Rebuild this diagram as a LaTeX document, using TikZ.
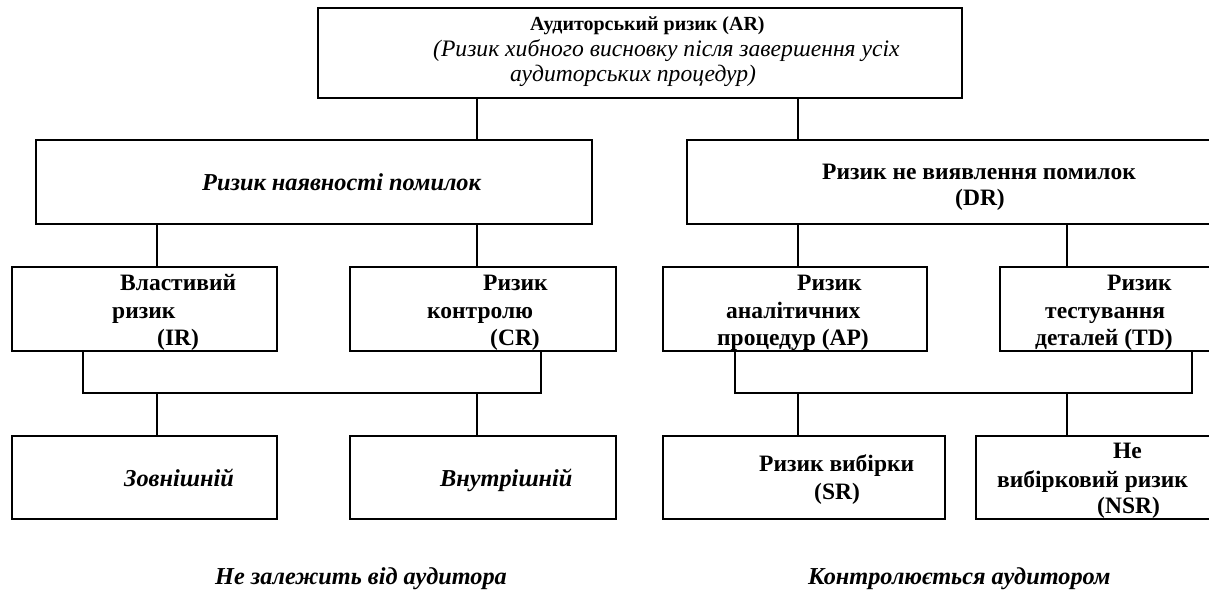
\documentclass[tikz,border=0pt]{standalone}
\usepackage{fontspec}
\setmainfont{Liberation Serif}
\begin{document}
\begin{tikzpicture}[x=1pt,y=-1pt,
  box/.style={draw,line width=2pt,inner sep=0pt,anchor=north west},
  conn/.style={line width=2pt},
  tb/.style={inner sep=0pt,anchor=base west,font=\fontsize{23.5}{27}\selectfont\bfseries},
  tbi/.style={inner sep=0pt,anchor=base west,font=\fontsize{24.3}{27}\selectfont\bfseries\itshape},
  ttb/.style={inner sep=0pt,anchor=base west,font=\fontsize{20}{25}\selectfont\bfseries},
  tti/.style={inner sep=0pt,anchor=base west,font=\fontsize{23.6}{25}\selectfont\itshape}]
\useasboundingbox (0,0) rectangle (1209,592);
\clip (0,0) rectangle (1209,592);
% boxes
\node[box,minimum width=644pt,minimum height=90pt] (ar) at (317,7) {};
\node[box,minimum width=556pt,minimum height=84pt] (er) at (35,139) {};
\node[box,minimum width=560pt,minimum height=84pt] (dr) at (686,139) {};
\node[box,minimum width=265pt,minimum height=84pt] (ir) at (11,266) {};
\node[box,minimum width=266pt,minimum height=84pt] (cr) at (349,266) {};
\node[box,minimum width=264pt,minimum height=84pt] (ap) at (662,266) {};
\node[box,minimum width=240pt,minimum height=84pt] (td) at (999,266) {};
\node[box,minimum width=265pt,minimum height=83pt] (ext) at (11,435) {};
\node[box,minimum width=266pt,minimum height=83pt] (int) at (349,435) {};
\node[box,minimum width=282pt,minimum height=83pt] (sr) at (662,435) {};
\node[box,minimum width=260pt,minimum height=83pt] (nsr) at (975,435) {};
% column coordinates
\coordinate (xa) at (477,0);
\coordinate (xb) at (798,0);
\coordinate (xc) at (157,0);
\coordinate (xd) at (1067,0);
\coordinate (lb1) at (83,393);
\coordinate (lb2) at (541,393);
\coordinate (rb1) at (735,393);
\coordinate (rb2) at (1192,393);
% connectors
\draw[conn] (ar.south -| xa) -- (er.north -| xa);
\draw[conn] (ar.south -| xb) -- (dr.north -| xb);
\draw[conn] (er.south -| xc) -- (ir.north -| xc);
\draw[conn] (er.south -| xa) -- (cr.north -| xa);
\draw[conn] (dr.south -| xb) -- (ap.north -| xb);
\draw[conn] (dr.south -| xd) -- (td.north -| xd);
\draw[conn] (ir.south -| lb1) |- (lb2) -- (cr.south -| lb2);
\draw[conn] (ap.south -| rb1) |- (rb2) -- (td.south -| rb2);
\draw[conn] (lb1 -| xc) -- (ext.north -| xc);
\draw[conn] (lb1 -| xa) -- (int.north -| xa);
\draw[conn] (rb1 -| xb) -- (sr.north -| xb);
\draw[conn] (rb1 -| xd) -- (nsr.north -| xd);
% texts
\node[ttb] (t1) at (530,30) {Аудиторський ризик (AR)};
\node[tti] (t2) at (433,56) {(Ризик хибного висновку після завершення усіх};
\node[tti] (t3) at (510,81) {аудиторських процедур)};
\node[tbi] (t4) at (202,190) {Ризик наявності помилок};
\node[tb] (t5) at (822,179) {Ризик не виявлення помилок};
\node[tb] (t6) at (955,205) {(DR)};
\node[tb] (t7) at (120,290) {Властивий};
\node[tb] (t8) at (112,318) {ризик};
\node[tb] (t9) at (157,345) {(IR)};
\node[tb] (t10) at (483,290) {Ризик};
\node[tb] (t11) at (427,318) {контролю};
\node[tb] (t12) at (490,345) {(CR)};
\node[tb] (t13) at (797,290) {Ризик};
\node[tb] (t14) at (726,318) {аналітичних};
\node[tb] (t15) at (717,345) {процедур (AP)};
\node[tb] (t16) at (1107,290) {Ризик};
\node[tb] (t17) at (1045,318) {тестування};
\node[tb] (t18) at (1035,345) {деталей (TD)};
\node[tbi] (t19) at (124,486) {Зовнішній};
\node[tbi] (t20) at (440,486) {Внутрішній};
\node[tb] (t21) at (759,471) {Ризик вибірки};
\node[tb] (t22) at (814,499) {(SR)};
\node[tb] (t23) at (1113,458) {Не};
\node[tb] (t24) at (997,487) {вибірковий ризик};
\node[tb] (t25) at (1097,513) {(NSR)};
\node[tbi] (t26) at (215,584) {Не залежить від аудитора};
\node[tbi] (t27) at (808,584) {Контролюється аудитором};
\end{tikzpicture}
\end{document}
